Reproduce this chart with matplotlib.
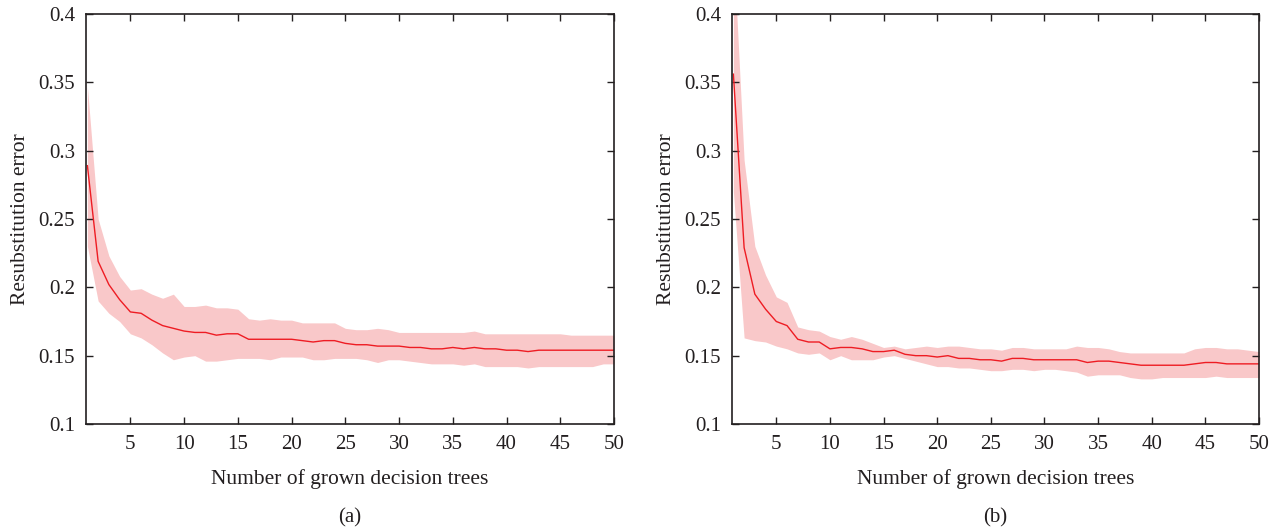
import matplotlib
matplotlib.use("Agg")
import matplotlib.pyplot as plt
import numpy as np

plt.rcParams["font.family"] = ["Liberation Serif", "DejaVu Serif"]

trees = np.arange(1, 51)

# panel (a)
mean_a = [0.289, 0.219, 0.202, 0.191, 0.182, 0.181, 0.176, 0.172, 0.170, 0.168,
          0.167, 0.167, 0.165, 0.166, 0.166, 0.162, 0.162, 0.162, 0.162, 0.162,
          0.161, 0.160, 0.161, 0.161, 0.159, 0.158, 0.158, 0.157, 0.157, 0.157,
          0.156, 0.156, 0.155, 0.155, 0.156, 0.155, 0.156, 0.155, 0.155, 0.154,
          0.154, 0.153, 0.154, 0.154, 0.154, 0.154, 0.154, 0.154, 0.154, 0.154]
upper_a = [0.347, 0.250, 0.223, 0.208, 0.198, 0.199, 0.195, 0.192, 0.195, 0.186,
           0.186, 0.187, 0.185, 0.185, 0.184, 0.177, 0.176, 0.177, 0.176, 0.176,
           0.174, 0.174, 0.174, 0.174, 0.170, 0.169, 0.169, 0.170, 0.169, 0.167,
           0.167, 0.167, 0.167, 0.167, 0.167, 0.167, 0.168, 0.166, 0.166, 0.166,
           0.166, 0.166, 0.166, 0.166, 0.166, 0.165, 0.165, 0.165, 0.165, 0.165]
lower_a = [0.230, 0.190, 0.181, 0.175, 0.166, 0.163, 0.158, 0.152, 0.147, 0.149,
           0.150, 0.146, 0.146, 0.147, 0.148, 0.148, 0.148, 0.147, 0.149, 0.149,
           0.149, 0.147, 0.147, 0.148, 0.148, 0.148, 0.147, 0.145, 0.147, 0.147,
           0.146, 0.145, 0.144, 0.144, 0.144, 0.143, 0.144, 0.142, 0.142, 0.142,
           0.142, 0.141, 0.142, 0.142, 0.142, 0.142, 0.142, 0.142, 0.144, 0.144]

# panel (b)
mean_b = [0.356, 0.229, 0.195, 0.184, 0.175, 0.172, 0.162, 0.160, 0.160, 0.155,
          0.156, 0.156, 0.155, 0.153, 0.153, 0.154, 0.151, 0.150, 0.150, 0.149,
          0.150, 0.148, 0.148, 0.147, 0.147, 0.146, 0.148, 0.148, 0.147, 0.147,
          0.147, 0.147, 0.147, 0.145, 0.146, 0.146, 0.145, 0.144, 0.143, 0.143,
          0.143, 0.143, 0.143, 0.144, 0.145, 0.145, 0.144, 0.144, 0.144, 0.144]
upper_b = [0.450, 0.293, 0.230, 0.209, 0.193, 0.189, 0.171, 0.169, 0.168, 0.164,
           0.162, 0.164, 0.162, 0.159, 0.156, 0.157, 0.155, 0.156, 0.157, 0.156,
           0.157, 0.157, 0.156, 0.155, 0.155, 0.154, 0.156, 0.156, 0.155, 0.155,
           0.155, 0.155, 0.157, 0.156, 0.156, 0.155, 0.153, 0.152, 0.152, 0.152,
           0.152, 0.152, 0.152, 0.155, 0.156, 0.156, 0.155, 0.155, 0.154, 0.153]
lower_b = [0.270, 0.163, 0.161, 0.160, 0.157, 0.155, 0.152, 0.151, 0.152, 0.147,
           0.150, 0.147, 0.147, 0.147, 0.149, 0.150, 0.148, 0.146, 0.144, 0.142,
           0.142, 0.141, 0.141, 0.140, 0.139, 0.139, 0.140, 0.140, 0.139, 0.140,
           0.140, 0.139, 0.138, 0.135, 0.136, 0.136, 0.136, 0.134, 0.133, 0.133,
           0.134, 0.134, 0.134, 0.134, 0.134, 0.135, 0.134, 0.134, 0.134, 0.134]

panels = [(mean_a, upper_a, lower_a, "(a)"), (mean_b, upper_b, lower_b, "(b)")]
ax_rects = [[86 / 1280, 107 / 531, 528 / 1280, 410 / 531],
            [732 / 1280, 107 / 531, 527 / 1280, 410 / 531]]

fig = plt.figure(figsize=(12.8, 5.31), dpi=100)
for (mean, upper, lower, tag), rect in zip(panels, ax_rects):
    ax = fig.add_axes(rect)
    ax.fill_between(trees, lower, upper, color="#f9c8c9", linewidth=0)
    ax.plot(trees, mean, color="#ee1c23", linewidth=1.0)
    ax.set_xlim(0.87, 50)
    ax.set_ylim(0.1, 0.4)
    ax.set_xticks(range(5, 51, 5))
    ax.set_yticks([0.1, 0.15, 0.2, 0.25, 0.3, 0.35, 0.4])
    ax.set_yticklabels(["0.1", "0.15", "0.2", "0.25", "0.3", "0.35", "0.4"])
    ax.tick_params(direction="in", top=True, right=True, length=5, width=1,
                   labelsize=15, colors="#231f20", pad=8)
    for s in ax.spines.values():
        s.set_linewidth(1.2)
        s.set_color("#231f20")
    ax.set_xlabel("Number of grown decision trees", fontsize=15.5, color="#231f20", labelpad=11)
    ax.set_ylabel("Resubstitution error", fontsize=15.5, color="#231f20", labelpad=6)
    ax.text(0.5, -0.23, tag, transform=ax.transAxes, ha="center", va="center",
            fontsize=15, color="#231f20")

fig.savefig("out.png", dpi=100)
